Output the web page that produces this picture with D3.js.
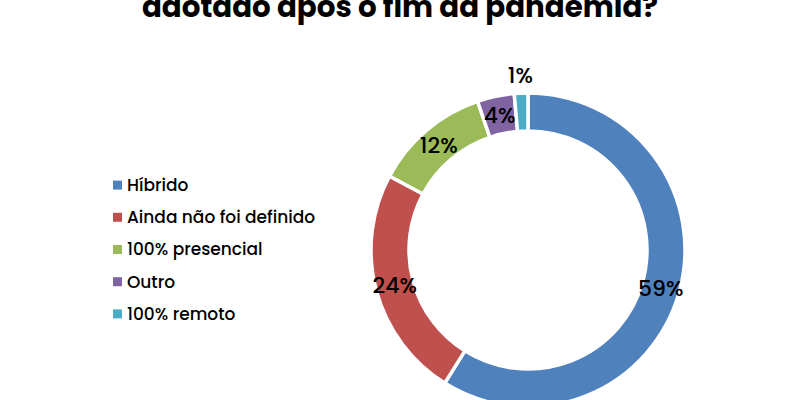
<!DOCTYPE html>
<html>
<head>
<meta charset="utf-8">
<script src="https://cdn.jsdelivr.net/npm/d3@7"></script>
<style>
  body { margin: 0; background: #fff; }
  svg { display: block; font-family: Poppins, "Open Sans", sans-serif; }
</style>
</head>
<body>
<div id="chart"></div>
<script>
// share of answers
const categories = ["Híbrido", "Ainda não foi definido", "100% presencial", "Outro", "100% remoto"];
const values = [58.9, 23.9, 12.0, 3.8, 1.4];
const colors = ["#4F81BD", "#C0504D", "#9BBB59", "#8064A2", "#4BACC6"];
const title = "adotado após o fim da pandemia?";

const width = 800, height = 400;

const svg = d3.select('#chart')
    .append('svg')
    .attr('width', width)
    .attr('height', height)
;

// second line of the title, its top runs past the picture's edge
svg.append('text')
    .attr('x', 400)
    .attr('y', 17)
    .attr('text-anchor', 'middle')
    .attr('font-size', 29.3)
    .attr('font-weight', 'bold')
    .attr('fill', '#000')
    .text(title)
;

// donut
const cx = 528, cy = 250;
const outer = 157, inner = 119;

const pie = d3.pie().sort(null).value(d => d);
const arcs = pie(values);
const total = d3.sum(values);

const arc = d3.arc().innerRadius(inner).outerRadius(outer);
const outsideArc = d3.arc().innerRadius(outer + 18).outerRadius(outer + 18);

const g = svg.append('g')
    .attr('transform', `translate(${cx},${cy})`)
;

g.selectAll('path')
    .data(arcs)
    .join('path')
    .attr('d', arc)
    .attr('fill', (d, i) => colors[i])
    .attr('stroke', '#fff')
    .attr('stroke-width', 3.5)
;

g.selectAll('text')
    .data(arcs)
    .join('text')
    .attr('transform', d => {
        // tiny slices get their label outside the ring
        let p = (d.value / total < 0.02) ? outsideArc.centroid(d) : arc.centroid(d);
        return `translate(${p[0]},${p[1]})`;
    })
    .attr('text-anchor', 'middle')
    .attr('dy', '0.36em')
    .attr('font-size', 22)
    .attr('font-weight', 500)
    .attr('fill', '#000')
    .text(d => Math.round(d.value / total * 100) + '%')
;

// legend
const legendY = d3.scaleBand()
    .domain(categories)
    .range([169, 330])
;

const legend = svg.append('g')
    .selectAll('g')
    .data(categories)
    .join('g')
    .attr('transform', d => `translate(113,${legendY(d) + legendY.bandwidth() / 2})`)
;

legend.append('rect')
    .attr('x', 0)
    .attr('y', -4.5)
    .attr('width', 9)
    .attr('height', 9)
    .attr('fill', (d, i) => colors[i])
;

legend.append('text')
    .attr('x', 14)
    .attr('dy', '0.35em')
    .attr('font-size', 17)
    .attr('font-weight', 500)
    .attr('fill', '#000')
    .text(d => d)
;
</script>
</body>
</html>
